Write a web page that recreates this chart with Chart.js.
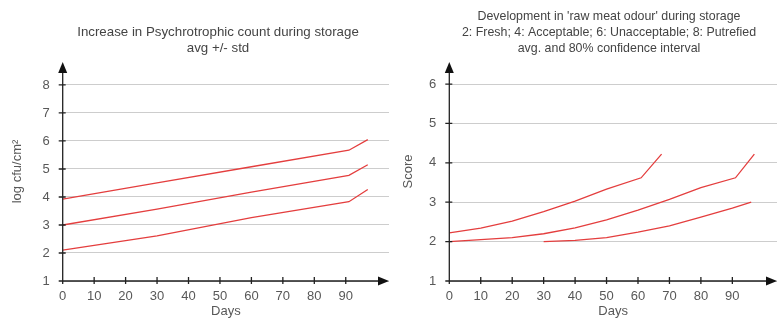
<!DOCTYPE html>
<html>
<head>
<meta charset="utf-8">
<script src="https://cdn.jsdelivr.net/npm/chart.js@4"></script>
<style>
  body { margin: 0; background: #fff; }
  #left, #right { position: absolute; top: 0; }
  #left { left: 0; }
  #right { left: 390px; }
</style>
</head>
<body>
<canvas id="left" width="390" height="322"></canvas>
<canvas id="right" width="387" height="322"></canvas>
<script>
// psychrotrophic count, log cfu/cm2
const psychroDays = [0, 30, 60, 91, 97];
const psychroUpper = [3.92, 4.5, 5.08, 5.67, 6.05];
const psychroAvg = [3.0, 3.57, 4.17, 4.77, 5.15];
const psychroLower = [2.1, 2.61, 3.26, 3.83, 4.27];

// raw meat odour score
const odourUpperDays = [0, 10, 20, 30, 40, 50, 61, 67.5];
const odourUpper = [2.22, 2.34, 2.52, 2.76, 3.03, 3.33, 3.62, 4.22];
const odourAvgDays = [0, 10, 20, 30, 40, 50, 60, 70, 80, 91, 97];
const odourAvg = [2.0, 2.05, 2.1, 2.2, 2.35, 2.55, 2.8, 3.07, 3.37, 3.62, 4.22];
const odourLowerDays = [30, 40, 50, 60, 70, 80, 90, 96];
const odourLower = [2.0, 2.03, 2.1, 2.24, 2.4, 2.62, 2.85, 3.0];

const dayTicks = [0, 10, 20, 30, 40, 50, 60, 70, 80, 90];

const leftTitle = ["Increase in Psychrotrophic count during storage", "avg +/- std"];
const rightTitle = ["Development in 'raw meat odour' during storage",
  "2: Fresh; 4: Acceptable; 6: Unacceptable; 8: Putrefied",
  "avg. and 80% confidence interval"];

const FONT = "'Liberation Sans', Arial, sans-serif";
const RED = "rgb(228, 62, 62)";
const GREY = "#585858";

function pts(xs, ys) {
  return xs.map((d, i) => ({x: d, y: ys[i]}));
}

function line(xs, ys) {
  return {
    data: pts(xs, ys),
    borderColor: RED,
    borderWidth: 1.3,
    pointRadius: 0,
    tension: 0,
    fill: false,
  };
}

// axis lines with arrows, small cross ticks, and the chart heading
const axesPlugin = {
  id: "axes",
  afterDraw(chart, args, opts) {
    const {ctx, chartArea: a, scales: {x, y}} = chart;
    const x0 = x.getPixelForValue(0);
    const y0 = y.getPixelForValue(1);
    ctx.save();
    ctx.strokeStyle = "#222";
    ctx.fillStyle = "#111";
    ctx.lineWidth = 1.3;
    ctx.beginPath();
    ctx.moveTo(x0, y0);
    ctx.lineTo(x0, a.top + 8);
    ctx.moveTo(x0, y0);
    ctx.lineTo(a.right - 8, y0);
    y.ticks.forEach(t => {
      if (t.label === "" || t.label == null) return;
      const py = y.getPixelForValue(t.value);
      ctx.moveTo(x0 - 4, py);
      ctx.lineTo(x0 + 3, py);
    });
    x.ticks.forEach(t => {
      if (t.label === "" || t.label == null) return;
      const px = x.getPixelForValue(t.value);
      ctx.moveTo(px, y0 - 4);
      ctx.lineTo(px, y0 + 3);
    });
    ctx.stroke();

    ctx.beginPath();
    ctx.moveTo(x0, a.top);
    ctx.lineTo(x0 - 4.5, a.top + 11);
    ctx.lineTo(x0 + 4.5, a.top + 11);
    ctx.closePath();
    ctx.fill();
    ctx.beginPath();
    ctx.moveTo(a.right, y0);
    ctx.lineTo(a.right - 11, y0 - 4.5);
    ctx.lineTo(a.right - 11, y0 + 4.5);
    ctx.closePath();
    ctx.fill();

    ctx.fillStyle = "#444";
    ctx.font = opts.size + "px " + FONT;
    ctx.textAlign = "center";
    ctx.textBaseline = "middle";
    opts.lines.forEach((txt, i) => {
      ctx.fillText(txt, opts.cx, opts.y0 + i * opts.step);
    });
    ctx.restore();
  }
};

function makeChart(id, datasets, cfg) {
  return new Chart(document.getElementById(id), {
    type: "line",
    data: {datasets},
    plugins: [axesPlugin],
    options: {
      responsive: false,
      animation: false,
      devicePixelRatio: 1,
      layout: {padding: {top: 62, right: cfg.padRight, left: 0, bottom: 0}},
      plugins: {
        legend: {display: false},
        tooltip: {enabled: false},
        axes: {lines: cfg.title, cx: cfg.titleX, y0: cfg.titleY, step: 16, size: cfg.titleSize},
      },
      scales: {
        x: {
          type: "linear",
          min: 0,
          max: cfg.xMax,
          afterFit: s => { s.height = 41; },
          afterBuildTicks: s => { s.ticks = dayTicks.map(v => ({value: v})); },
          grid: {display: false},
          border: {display: false},
          ticks: {
            color: GREY,
            padding: 0,
            maxRotation: 0,
            autoSkip: false,
            font: {family: FONT, size: 13},
          },
          title: {
            display: true,
            text: "Days",
            color: GREY,
            padding: {top: 0, bottom: 3},
            font: {family: FONT, size: 13},
          },
        },
        y: {
          min: 1,
          max: cfg.yMax,
          afterFit: s => { s.width = cfg.yWidth; },
          grid: {color: "#cdcdcd", lineWidth: 1, drawTicks: false},
          border: {display: false},
          ticks: {
            stepSize: 1,
            includeBounds: false,
            color: GREY,
            padding: 13,
            font: {family: FONT, size: 13},
          },
          title: {
            display: true,
            text: cfg.yTitle,
            color: GREY,
            padding: {top: cfg.yTitlePad, bottom: 0},
            font: {family: FONT, size: 13},
          },
        },
      },
    },
  });
}

makeChart("left", [
  line(psychroDays, psychroUpper),
  line(psychroDays, psychroAvg),
  line(psychroDays, psychroLower),
], {
  padRight: 1, xMax: 103.75, yMax: 8.82, yWidth: 62.7,
  yTitle: "log cfu/cm\u00B2", yTitlePad: 10,
  title: leftTitle, titleX: 218, titleY: 32, titleSize: 13.3,
});

makeChart("right", [
  line(odourUpperDays, odourUpper),
  line(odourAvgDays, odourAvg),
  line(odourLowerDays, odourLower),
], {
  padRight: 0, xMax: 104.2, yMax: 6.56, yWidth: 59.3,
  yTitle: "Score", yTitlePad: 11,
  title: rightTitle, titleX: 219, titleY: 17, titleSize: 12.4,
});
</script>
</body>
</html>
